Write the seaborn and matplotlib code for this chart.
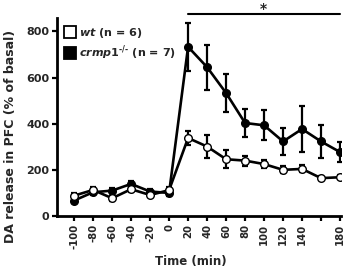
import matplotlib
matplotlib.use("Agg")
import matplotlib.pyplot as plt
import seaborn as sns
import pandas as pd
from matplotlib.lines import Line2D

# ---- data ----
time = [-100, -80, -60, -40, -20, 0, 20, 40, 60, 80, 100, 120, 140, 160, 180]
wt_mean = [88, 113, 77, 116, 91, 112, 338, 301, 246, 240, 225, 200, 204, 164, 168]
wt_sem = [12, 12, 10, 12, 10, 12, 29, 50, 40, 22, 18, 15, 15, 8, 8]
ko_mean = [67, 103, 110, 139, 106, 100, 733, 645, 533, 403, 393, 323, 377, 323, 277]
ko_sem = [10, 12, 10, 12, 10, 12, 105, 97, 82, 60, 65, 60, 98, 70, 42]
xtick_labels = ["-100", "-80", "-60", "-40", "-20", "0", "20", "40", "60", "80",
                "100", "120", "140", "", "180"]
yticks = [0, 200, 400, 600, 800]

sns.set_style("ticks")
plt.rcParams["font.family"] = ["DejaVu Sans"]
plt.rcParams["font.weight"] = "bold"
plt.rcParams["mathtext.fontset"] = "custom"
plt.rcParams["mathtext.it"] = "DejaVu Sans:italic:bold"
plt.rcParams["mathtext.rm"] = "DejaVu Sans:bold"
plt.rcParams["mathtext.bf"] = "DejaVu Sans:bold"

df = pd.DataFrame({
    "time": time * 2,
    "value": ko_mean + wt_mean,
    "group": ["ko"] * len(time) + ["wt"] * len(time),
})

fig = plt.figure(figsize=(3.47, 2.73), dpi=100)
ax = fig.add_axes([57 / 347, 1 - 216 / 273, (341 - 57) / 347, (216 - 18) / 273])

# error bars
ax.errorbar(time, ko_mean, yerr=ko_sem, fmt="none", ecolor="black",
            elinewidth=1.6, capsize=2.3, capthick=1.6, zorder=2)
ax.errorbar(time, wt_mean, yerr=wt_sem, fmt="none", ecolor="black",
            elinewidth=1.6, capsize=2.3, capthick=1.6, zorder=2)

sns.lineplot(data=df[df.group == "ko"], x="time", y="value", ax=ax,
             color="black", lw=1.9, marker="o", markersize=5.5,
             markerfacecolor="black", markeredgecolor="black",
             markeredgewidth=1.0, zorder=3, legend=False)
sns.lineplot(data=df[df.group == "wt"], x="time", y="value", ax=ax,
             color="black", lw=1.9, marker="o", markersize=5.5,
             markerfacecolor="white", markeredgecolor="black",
             markeredgewidth=1.0, zorder=4, legend=False)

ax.set_xlim(-118, 181)
ax.set_ylim(0, 858)
ax.set_xticks(time)
ax.set_xticklabels(xtick_labels, rotation=90, fontsize=7.3, fontweight="bold")
ax.set_yticks(yticks)
ax.set_yticklabels([str(v) for v in yticks], fontsize=8, fontweight="bold")
ax.tick_params(axis="both", direction="out", length=3.5, width=1.6, pad=2,
               color="black")

for s in ["top", "right"]:
    ax.spines[s].set_visible(False)
for s in ["left", "bottom"]:
    ax.spines[s].set_linewidth(2.0)
    ax.spines[s].set_color("black")

ax.set_xlabel("Time (min)", fontsize=8.5, fontweight="bold")
ax.xaxis.set_label_coords((191 - 57) / 284, (216 - 262) / 198)
ax.xaxis.label.set_va("center")
ax.set_ylabel("DA release in PFC (% of basal)", fontsize=9, fontweight="bold")
ax.yaxis.set_label_coords((11 - 57) / 284, (216 - 136) / 198)
ax.yaxis.label.set_va("center")

# significance bar
ax.plot([20, 180], [875, 875], color="black", lw=1.5, clip_on=False)
ax.text(99, 897, "*", ha="center", va="center", fontsize=10,
        fontweight="bold", clip_on=False)

handles = [
    Line2D([], [], ls="none", marker="s", markersize=8.5,
           markerfacecolor="white", markeredgecolor="black", markeredgewidth=1.3),
    Line2D([], [], ls="none", marker="s", markersize=8.5,
           markerfacecolor="black", markeredgecolor="black", markeredgewidth=1.3),
]
labels = [r"$\mathit{wt}$ (n = 6)", r"$\mathit{crmp1}^{\text{-/-}}$ (n = 7)"]
leg = ax.legend(handles, labels, loc="upper left",
                bbox_to_anchor=(0.0, 1.0), frameon=False,
                handlelength=1.0, handletextpad=0.3, labelspacing=0.35,
                borderaxespad=0.3, prop={"size": 8, "weight": "bold"})

fig.savefig("out.png", dpi=100)
